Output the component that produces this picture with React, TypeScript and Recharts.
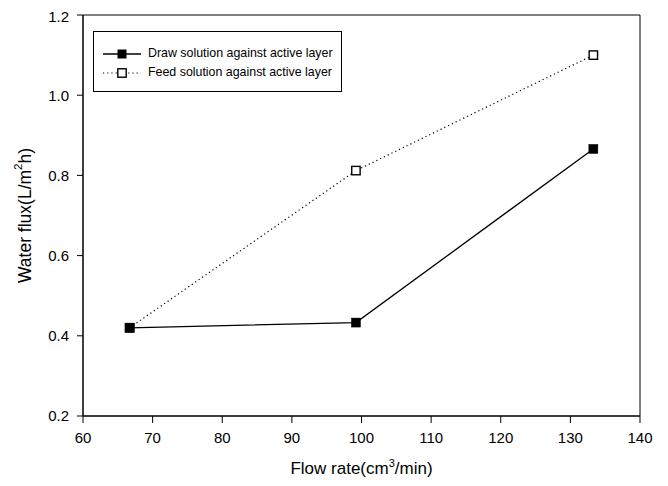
import React from "react";
import { LineChart, Line, XAxis, YAxis, ReferenceArea, Legend } from "recharts";

const flowRates = [66.7, 99.2, 133.3];
const drawSeries = [0.42, 0.433, 0.866];
const feedSeries = [0.42, 0.812, 1.1];
const xTicks = [60, 70, 80, 90, 100, 110, 120, 130, 140];
const yTicks = [0.2, 0.4, 0.6, 0.8, 1.0, 1.2];
const seriesNames = ["Draw solution against active layer", "Feed solution against active layer"];

const data = flowRates.map((x, i) => ({ x, draw: drawSeries[i], feed: feedSeries[i] }));

const FONT = "'Liberation Sans', Arial, sans-serif";

const FilledSquare = (props: any) => {
  const { cx, cy } = props;
  if (cx == null || cy == null) return null;
  return <rect x={cx - 4.5} y={cy - 4.5} width={9} height={9} fill="#000" stroke="#000" strokeWidth={0.5} />;
};

const OpenSquare = (props: any) => {
  const { cx, cy } = props;
  if (cx == null || cy == null) return null;
  return <rect x={cx - 4.2} y={cy - 4.2} width={8.4} height={8.4} fill="#fff" stroke="#000" strokeWidth={1.4} />;
};

const XTitle = (props: any) => {
  const vb = props.viewBox || {};
  return (
    <text x={vb.x + vb.width / 2} y={vb.y + 58} textAnchor="middle" fontSize={17} fontFamily={FONT} fill="#000">
      Flow rate(cm<tspan dy={-7} fontSize={11}>3</tspan><tspan dy={7}>/min)</tspan>
    </text>
  );
};

const YTitle = (props: any) => {
  const vb = props.viewBox || {};
  const cx = vb.x + 17;
  const cy = vb.y + vb.height / 2;
  return (
    <text x={cx} y={cy} textAnchor="middle" dominantBaseline="central" fontSize={17.5} fontFamily={FONT} fill="#000" transform={`rotate(-90 ${cx} ${cy})`}>
      Water flux(L/m<tspan dy={-7} fontSize={11.5}>2</tspan><tspan dy={7}>h)</tspan>
    </text>
  );
};

const LegendBox = () => (
  <div
    style={{
      border: "1px solid #000",
      background: "#fff",
      padding: "12px 8px 9px 9px",
      fontFamily: FONT,
      fontSize: 12.4,
      color: "#000",
      display: "inline-block",
      position: "absolute",
      left: 0,
      top: 0,
    }}
  >
    {seriesNames.map((name, i) => (
      <div key={name} style={{ display: "flex", alignItems: "center", height: 19, whiteSpace: "nowrap" }}>
        <svg width={38} height={12} style={{ marginRight: 7, flex: "none" }}>
          <line x1={0} y1={6} x2={38} y2={6} stroke="#000" strokeWidth={i === 0 ? 1.3 : 1.2} strokeDasharray={i === 0 ? undefined : "1.2 3"} />
          {i === 0 ? (
            <rect x={14.5} y={1.5} width={9} height={9} fill="#000" />
          ) : (
            <rect x={14.8} y={1.8} width={8.4} height={8.4} fill="#fff" stroke="#000" strokeWidth={1.4} />
          )}
        </svg>
        <span style={{ lineHeight: "19px" }}>{name}</span>
      </div>
    ))}
  </div>
);

export default function App() {
  return (
    <LineChart width={652} height={470} data={data} margin={{ top: 7, right: 20, bottom: 0, left: 0 }}>
      <ReferenceArea x1={60} x2={140} y1={0.2} y2={1.2} fill="none" stroke="#000" strokeWidth={1} />
      <XAxis
        dataKey="x"
        type="number"
        domain={[60, 140]}
        ticks={xTicks}
        height={62}
        tickSize={7}
        tickMargin={9}
        stroke="#000"
        axisLine={{ stroke: "#000" }}
        tickLine={{ stroke: "#000" }}
        tick={{ fontSize: 15, fontFamily: FONT, fill: "#000" }}
        label={<XTitle />}
      />
      <YAxis
        type="number"
        domain={[0.2, 1.2]}
        ticks={yTicks}
        width={75}
        tickSize={6}
        tickMargin={8}
        stroke="#000"
        tickFormatter={(v: number) => v.toFixed(1)}
        tick={{ fontSize: 15, fontFamily: FONT, fill: "#000" }}
        label={<YTitle />}
      />
      <Legend
        content={<LegendBox />}
        wrapperStyle={{ position: "absolute", left: 85, top: 23, width: 0, height: 0, bottom: "auto", overflow: "visible" }}
      />
      <Line
        dataKey="feed"
        name={seriesNames[1]}
        stroke="#000"
        strokeWidth={1.2}
        strokeDasharray="1.2 3"
        dot={<OpenSquare />}
        activeDot={false}
        isAnimationActive={false}
      />
      <Line
        dataKey="draw"
        name={seriesNames[0]}
        stroke="#000"
        strokeWidth={1.3}
        dot={<FilledSquare />}
        activeDot={false}
        isAnimationActive={false}
      />
    </LineChart>
  );
}
